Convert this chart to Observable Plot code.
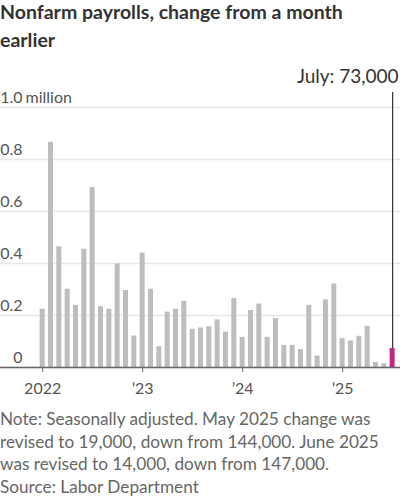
<!DOCTYPE html>
<html>
<head>
<meta charset="utf-8">
<script src="https://cdn.jsdelivr.net/npm/d3@7"></script>
<script src="https://cdn.jsdelivr.net/npm/@observablehq/plot@0.6"></script>
<style>
  body { margin: 0; background: #fff; font-family: Lato, "Noto Sans", sans-serif; }
  #wrap { width: 400px; }
  h1 { margin: -2px 0 2px 0; width: 355px; font-size: 19.5px; font-weight: 700; line-height: 28px; color: #333; }
  .note { width: 380px; font-size: 17.2px; line-height: 22.7px; color: #666; margin-top: 8px; }
  svg { display: block; }
</style>
</head>
<body>
<div id="wrap">
  <h1>Nonfarm payrolls, change from a month earlier</h1>
  <div id="chart"></div>
  <div class="note">Note: Seasonally adjusted. May 2025 change was revised to 19,000, down from 144,000. June 2025 was revised to 14,000, down from 147,000.<br>Source: Labor Department</div>
</div>
<script>
// Monthly change in nonfarm payrolls, thousands of jobs, Jan 2022 – Jul 2025
const startMonth = "2022-01";
const payrolls2022 = [224, 866, 464, 301, 239, 455, 692, 234, 224, 398, 296, 121];
const payrolls2023 = [440, 301, 80, 213, 224, 254, 147, 152, 157, 183, 136, 265];
const payrolls2024 = [116, 219, 244, 116, 188, 85, 85, 69, 239, 44, 260, 321];
const payrolls2025 = [111, 102, 120, 158, 19, 14, 73];

const yTicks = [0, 0.2, 0.4, 0.6, 0.8, 1.0];
const yTickLabels = ["0", "0.2", "0.4", "0.6", "0.8", "1.0"];
const yUnitLabel = "million";
const xTickDates = ["2022-01", "2023-01", "2024-01", "2025-01"];
const xTickLabels = ["2022", "\u201923", "\u201924", "\u201925"];

const values = [...payrolls2022, ...payrolls2023, ...payrolls2024, ...payrolls2025];
const start = d3.utcParse("%Y-%m")(startMonth);
const data = values.map((v, i) => ({date: +d3.utcMonth.offset(start, i), jobs: v, millions: v / 1000}));
const last = data[data.length - 1];
const monthName = d3.utcFormat("%B");
const xTicks = xTickDates.map(d => +d3.utcParse("%Y-%m")(d));
const yLabelRows = yTicks.map((v, i) => ({v, label: yTickLabels[i]}));
const yTop = yTicks[yTicks.length - 1];

// Callout for the latest month: a leader line from the bar up past the top gridline
const callout = [{
  date: last.date,
  value: last.millions,
  top: yTop,
  label: `${monthName(new Date(last.date))}: ${d3.format(",")(last.jobs * 1000)}`
}];

const grey = "#bdbdbd";
const highlight = "#c2297e";

const chart = Plot.plot({
  width: 400,
  height: 344,
  marginLeft: 0,
  marginRight: 0,
  marginTop: 51,
  marginBottom: 33,
  style: {fontFamily: "Lato, 'Noto Sans', sans-serif", fontSize: "15px", color: "#555", overflow: "visible"},
  x: {type: "band", domain: data.map(d => d.date), paddingInner: 0.4, paddingOuter: 0.2, round: false, insetLeft: 38, insetRight: 3.7},
  y: {domain: [0, yTop], axis: null},
  marks: [
    Plot.gridY(yTicks, {stroke: "#e6e6e6", strokeOpacity: 1, strokeWidth: 1.5}),
    Plot.barY(data, {
      x: "date",
      y: "millions",
      fill: d => d === last ? highlight : grey
    }),
    Plot.ruleY([0], {stroke: "#666", strokeWidth: 1.5}),
    Plot.text(yLabelRows, {
      y: "v", text: "label", frameAnchor: "left", dx: 22, dy: -10,
      textAnchor: "end", fontSize: 16, fill: "#555"
    }),
    Plot.text([yTop], {y: d => d, frameAnchor: "left", dx: 25, dy: -10, text: () => yUnitLabel, textAnchor: "start", fontSize: 16, fill: "#555"}),
    Plot.axisX(xTicks, {
      anchor: "bottom", tickSize: 5, stroke: "#666", tickPadding: 10,
      tickFormat: d => xTickLabels[xTicks.indexOf(d)],
      label: null, fontSize: 16, fill: "#555"
    }),
    Plot.ruleX(callout, {x: "date", y1: "top", y2: "value", insetTop: -15, stroke: "#333", strokeWidth: 1.2}),
    Plot.text(callout, {
      x: "date", frameAnchor: "top", dy: -38, dx: 6, textAnchor: "end",
      text: "label", fontSize: 19, fill: "#333"
    })
  ]
});
document.getElementById("chart").appendChild(chart);
</script>
</body>
</html>
